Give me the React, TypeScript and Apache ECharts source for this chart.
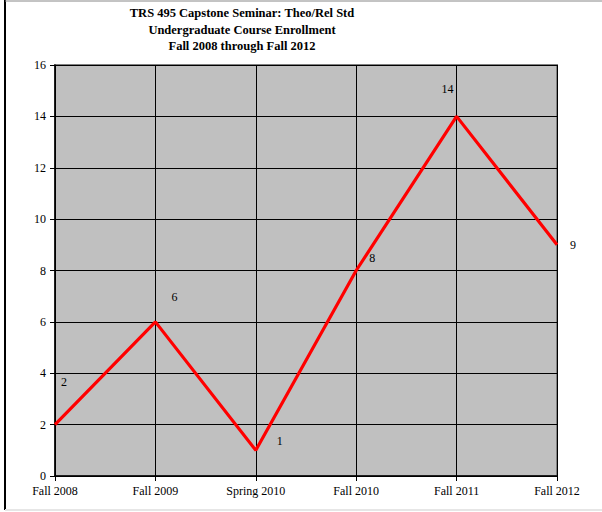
import React, { useEffect, useRef } from "react";
import * as echarts from "echarts";

const titleLines = [
  "TRS 495 Capstone Seminar: Theo/Rel Std",
  "Undergraduate Course Enrollment",
  "Fall 2008 through Fall 2012",
];
const categories = ["Fall 2008", "Fall 2009", "Spring 2010", "Fall 2010", "Fall 2011", "Fall 2012"];
const enrollment = [2, 6, 1, 8, 14, 9];
const labelOffsets: [number, number][] = [
  [9, -43],
  [19, -25],
  [24, -9],
  [16, -13],
  [-9, -27],
  [16, 0],
];

const FONT = "'Liberation Serif', 'Times New Roman', serif";

export default function App() {
  const ref = useRef<HTMLDivElement>(null);
  useEffect(() => {
    if (!ref.current) return;
    const chart = echarts.init(ref.current, undefined, { renderer: "svg" });
    const labelStyle = {
      show: true,
      position: "inside",
      fontFamily: FONT,
      fontSize: 12,
      color: "#000000",
      textBorderWidth: 0,
      textBorderColor: "transparent",
    };
    chart.setOption({
      animation: false,
      backgroundColor: "#ffffff",
      title: {
        text: titleLines.join("\n"),
        left: 237,
        top: 0,
        textAlign: "center",
        textStyle: {
          fontFamily: FONT,
          fontWeight: "bold",
          fontSize: 12.5,
          lineHeight: 16.5,
          color: "#000",
        },
      },
      graphic: [
        { type: "line", shape: { x1: 5, y1: 0, x2: 5, y2: 510 }, style: { stroke: "#000", lineWidth: 2 } },
        { type: "line", shape: { x1: 5, y1: 1, x2: 602, y2: 1 }, style: { stroke: "#888", lineWidth: 1 } },
        { type: "line", shape: { x1: 5, y1: 510, x2: 602, y2: 510 }, style: { stroke: "#e6e6e6", lineWidth: 2 } },
      ],
      grid: {
        left: 55,
        right: 45,
        top: 65,
        bottom: 36,
        show: true,
        backgroundColor: "#C0C0C0",
        borderColor: "#808080",
        borderWidth: 2,
      },
      xAxis: {
        type: "category",
        data: categories,
        boundaryGap: false,
        axisLine: { show: true, lineStyle: { color: "#000", width: 1.5 } },
        axisTick: { show: true, length: 5, lineStyle: { color: "#000" } },
        axisLabel: { fontFamily: FONT, fontSize: 12, color: "#000", margin: 9 },
        splitLine: { show: true, lineStyle: { color: "#000", width: 1 } },
      },
      yAxis: {
        type: "value",
        min: 0,
        max: 16,
        interval: 2,
        axisLine: { show: true, lineStyle: { color: "#000", width: 1.5 } },
        axisTick: { show: true, length: 5, lineStyle: { color: "#000" } },
        axisLabel: { fontFamily: FONT, fontSize: 12, color: "#000", margin: 9 },
        splitLine: { show: true, lineStyle: { color: "#000", width: 1 } },
      },
      series: [
        {
          type: "line",
          data: enrollment.map((v, i) => ({
            value: v,
            label: { ...labelStyle, offset: labelOffsets[i] },
          })),
          lineStyle: { color: "#FF0000", width: 3.2 },
          itemStyle: { color: "rgba(0,0,0,0)" },
          symbol: "circle",
          symbolSize: 1,
          showSymbol: true,
          label: labelStyle,
        },
      ],
    });
    return () => chart.dispose();
  }, []);
  return (
    <div
      ref={ref}
      style={{ position: "fixed", left: 0, top: 0, width: 602, height: 512 }}
    />
  );
}
